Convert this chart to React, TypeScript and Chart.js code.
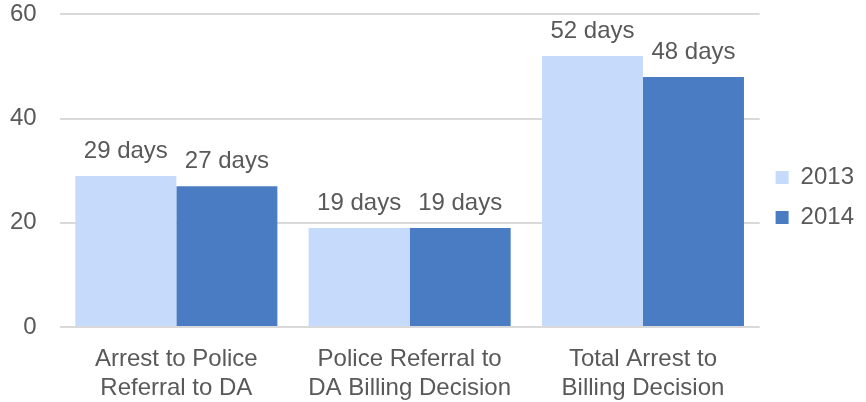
import React, { useEffect, useRef } from "react";
import { Chart, registerables } from "chart.js";
Chart.register(...registerables);

const categories = [
  ["Arrest to Police", "Referral to DA"],
  ["Police Referral to", "DA Billing Decision"],
  ["Total Arrest to", "Billing Decision"],
];
const series2013 = [29, 19, 52];
const series2014 = [27, 19, 48];
const seriesNames = ["2013", "2014"];
const yTicks = [0, 20, 40, 60];

const FAMILY = "'Liberation Sans', Arial, sans-serif";

const labelPlugin = {
  id: "barLabels",
  afterDatasetsDraw(chart: any) {
    const ctx = chart.ctx;
    ctx.save();
    ctx.fillStyle = "#595959";
    ctx.font = "24px " + FAMILY;
    ctx.textAlign = "center";
    ctx.textBaseline = "alphabetic";
    chart.data.datasets.forEach((ds: any, i: number) => {
      const meta = chart.getDatasetMeta(i);
      meta.data.forEach((el: any, j: number) => {
        ctx.fillText(ds.data[j] + " days", el.x, el.y - 18);
      });
    });
    ctx.restore();
  },
};

export default function App() {
  const ref = useRef<HTMLCanvasElement>(null);
  useEffect(() => {
    const font = { family: FAMILY, size: 24 };
    const chart = new Chart(ref.current!, {
      type: "bar",
      data: {
        labels: categories,
        datasets: [
          { label: seriesNames[0], data: series2013, backgroundColor: "#C6DAFB", categoryPercentage: 0.866, barPercentage: 1 },
          { label: seriesNames[1], data: series2014, backgroundColor: "#4A7CC4", categoryPercentage: 0.866, barPercentage: 1 },
        ],
      },
      options: {
        animation: false,
        responsive: false,
        layout: { padding: { top: 4.5, right: 2, left: 10, bottom: -10.6 } },
        plugins: {
          legend: {
            position: "right",
            align: "start",
            title: {
              display: true,
              text: " ",
              font: { family: FAMILY, size: 10 },
              padding: { top: 67, bottom: 66 },
            },
            labels: { boxWidth: 13, boxHeight: 13, font, color: "#595959", padding: 16 },
          },
          tooltip: { enabled: false },
        },
        scales: {
          x: {
            grid: { display: false },
            border: { display: false },
            ticks: { font, color: "#595959", padding: 10, maxRotation: 0 },
          },
          y: {
            min: 0,
            max: 60,
            afterBuildTicks: (axis: any) => {
              axis.ticks = yTicks.map((v) => ({ value: v }));
            },
            grid: {
              color: "#D9D9D9",
              lineWidth: 2,
              drawTicks: true,
              tickLength: 23,
              tickColor: "rgba(0,0,0,0)",
            },
            border: { display: false },
            ticks: { font, color: "#595959", padding: 0 },
          },
        },
      },
      plugins: [labelPlugin],
    });
    return () => chart.destroy();
  }, []);
  return (
    <canvas
      ref={ref}
      width={866}
      height={402}
      style={{ position: "fixed", left: 0, top: 0, display: "block" }}
    />
  );
}
